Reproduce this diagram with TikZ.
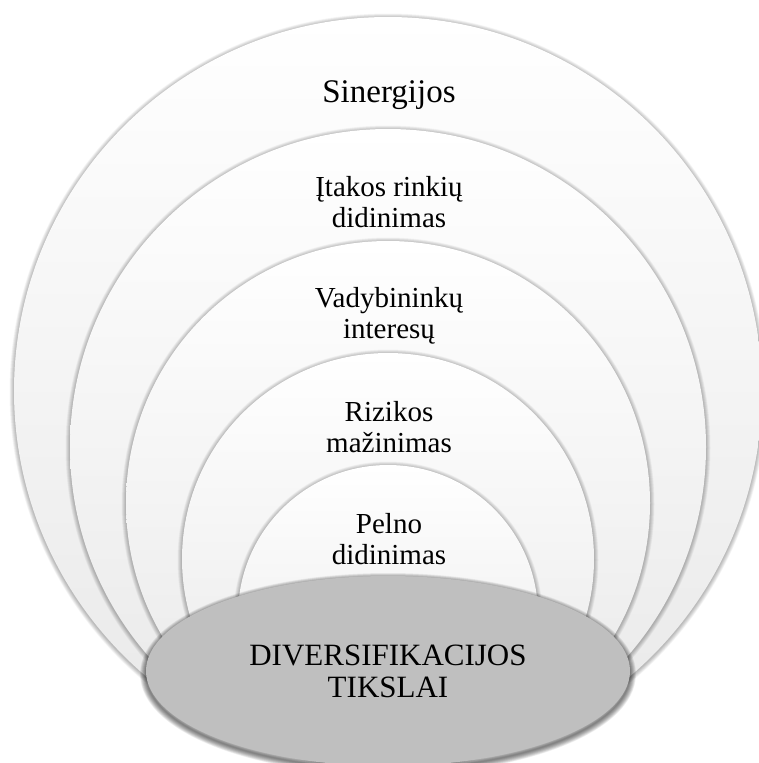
\documentclass[tikz,border=0pt]{standalone}
\usepackage{fontspec}
\setmainfont{Liberation Serif}
\newfontfamily\capfont{Liberation Serif}
\usetikzlibrary{shapes.geometric}

\begin{document}
\begin{tikzpicture}[x=1pt,y=-1pt,
  ring/.style={circle, inner sep=0pt, minimum size=#1, draw=none,
    top color=white, bottom color=black!9},
  hub/.style={ellipse, inner sep=0pt, minimum width=484, minimum height=190,
    draw=none, fill=black!25},
  soft/.style={draw=black, draw opacity=0.03, fill=none},
  label/.style={align=center, anchor=base, inner sep=0pt,
    font=\capfont\fontsize{29}{31}\selectfont},
  biglabel/.style={align=center, anchor=base, inner sep=0pt,
    font=\capfont\fontsize{33}{38}\selectfont},
  hublabel/.style={align=center, anchor=base, inner sep=0pt,
    font=\capfont\fontsize{31}{31.5}\selectfont}]
  \clip (0,0) rectangle (759,763);
  \useasboundingbox (0,0) rectangle (759,763);
  \fill[white] (0,0) rectangle (759,763);

  % stacked rings, all resting on the same bottom point;
  % each one gets a soft halo of stacked translucent strokes first
  \foreach \cy/\rad/\nm in {391/374/r1, 447/318/r2, 503/262/r3,
                            559/206/r4, 615/150/r5} {
    \foreach \w in {1,2,...,9}
      \draw[soft, line width=\w] (388,\cy+1) circle[radius=\rad];
    \node[ring=2*\rad] (\nm) at (388,\cy) {};
  }

  % central ellipse with a heavier shadow below it
  \foreach \w in {1,2,...,12}
    \draw[draw=black, draw opacity=0.05, line width=\w]
      (388,674) ellipse[x radius=242, y radius=95];
  \node[hub] (hub) at (388,671) {};

  % ring captions
  \node[biglabel] (t1) at (389,102) {Sinergijos};
  \node[label] (t2) at (389,227) {Įtakos rinkių\\didinimas};
  \node[label] (t3) at (389,338) {Vadybininkų\\interesų};
  \node[label] (t4) at (389,452) {Rizikos\\mažinimas};
  \node[label] (t5) at (389,564) {Pelno\\didinimas};
  \node[hublabel] (t6) at (388,697) {DIVERSIFIKACIJOS\\TIKSLAI};
\end{tikzpicture}
\end{document}
